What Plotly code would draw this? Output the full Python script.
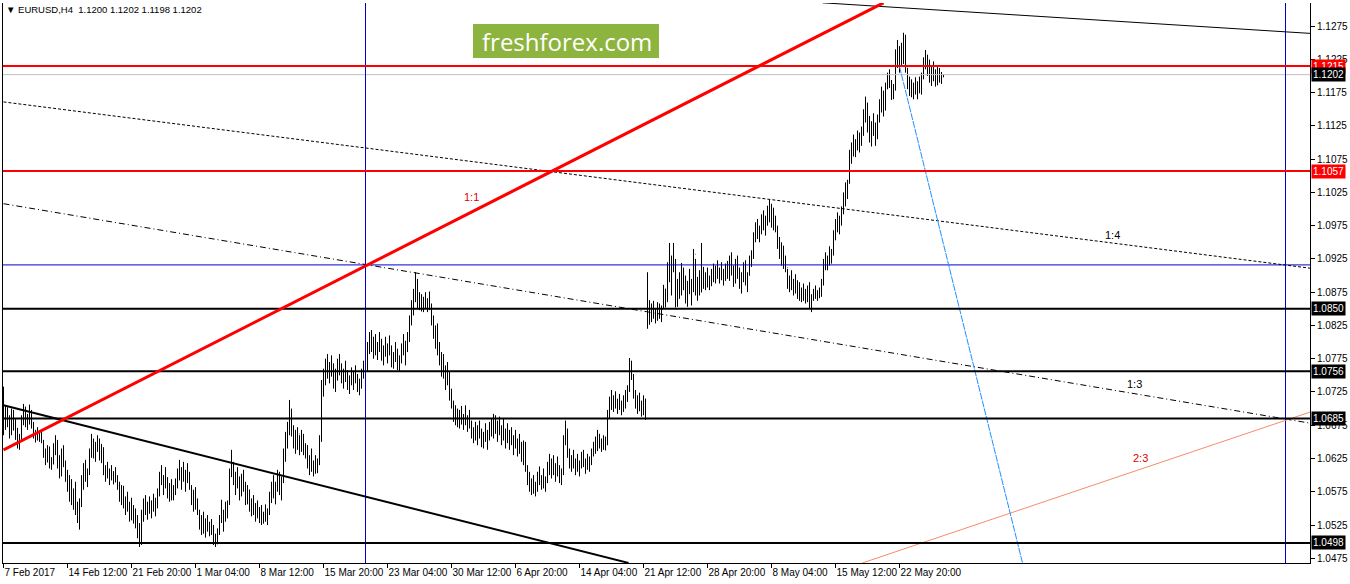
import plotly.graph_objects as go

# ---------------- data (prices in 1/10000 units) ----------------
PIP = 10000.0

bar_open = [
10705,10672,10690,10680,10662,10694,10675,10660,10648,10655,
10684,10698,10680,10686,10690,10674,10661,10660,10657,10654,
10651,10632,10622,10640,10616,10620,10641,10650,10615,10602,
10635,10618,10598,10580,10588,10562,10570,10546,10535,10558,
10590,10605,10598,10605,10632,10648,10630,10644,10640,10628,
10640,10606,10610,10600,10604,10597,10600,10594,10583,10565,
10578,10555,10560,10550,10552,10538,10546,10528,10512,10500,
10540,10558,10548,10555,10547,10558,10552,10560,10574,10598,
10590,10592,10585,10572,10580,10568,10578,10588,10602,10598,
10605,10595,10600,10592,10582,10560,10570,10552,10546,10525,
10532,10518,10528,10520,10526,10514,10500,10508,10515,10535,
10540,10544,10552,10556,10605,10612,10590,10598,10585,10570,
10595,10580,10562,10578,10550,10560,10545,10552,10540,10548,
10530,10542,10535,10546,10570,10582,10572,10585,10600,10578,
10592,10632,10655,10672,10690,10665,10660,10645,10662,10640,
10650,10635,10644,10615,10625,10610,10618,10608,10620,10655,
10735,10748,10762,10752,10765,10755,10740,10750,10768,10758,
10745,10752,10748,10735,10745,10740,10750,10742,10730,10738,
10755,10750,10762,10795,10805,10792,10800,10786,10795,10790,
10780,10788,10784,10792,10786,10770,10780,10775,10765,10776,
10790,10785,10796,10808,10835,10852,10875,10870,10862,10868,
10852,10862,10856,10860,10852,10830,10812,10820,10786,10772,
10778,10750,10760,10740,10720,10705,10690,10698,10680,10692,
10684,10688,10680,10685,10675,10660,10668,10658,10670,10662,
10648,10660,10655,10664,10672,10662,10685,10668,10675,10664,
10670,10660,10665,10655,10660,10650,10655,10645,10650,10640,
10628,10645,10612,10595,10580,10588,10578,10585,10598,10590,
10595,10585,10592,10615,10610,10620,10605,10612,10602,10598,
10605,10655,10660,10635,10615,10625,10615,10620,10610,10618,
10628,10618,10620,10615,10625,10635,10645,10640,10660,10648,
10650,10645,10654,10692,10710,10705,10715,10708,10710,10704,
10708,10715,10720,10730,10765,10750,10720,10710,10715,10702,
10708,10695,10880,10850,10845,10850,10840,10846,10855,10842,
10850,10880,10870,10912,10900,10925,10912,10860,10885,10875,
10910,10882,10865,10885,10880,10890,10932,10878,10892,10875,
10905,10895,10900,10888,10895,10905,10898,10910,10902,10908,
10898,10905,10912,10900,10925,10908,10890,10918,10900,10885,
10898,10912,10890,10900,10925,10932,10960,10972,10962,10970,
10985,10975,10985,10998,10990,10998,10975,10970,10948,10935,
10940,10918,10912,10888,10895,10885,10890,10878,10885,10870,
10878,10868,10875,10865,10858,10868,10875,10870,10875,10872,
10890,10920,10915,10925,10938,10935,10962,10978,10972,10985,
10998,11018,11035,11040,11082,11090,11085,11100,11095,11110,
11118,11145,11140,11125,11108,11125,11118,11120,11138,11158,
11172,11150,11185,11195,11188,11170,11182,11232,11220,11238,
11222,11258,11212,11188,11190,11175,11185,11178,11188,11182,
11200,11222,11218,11225,11198,11205,11200,11195,11208,11198,
11200]

bar_high = [
10733,10704,10702,10690,10700,10698,10684,10671,10662,10690,
10707,10703,10692,10706,10698,10680,10668,10672,10665,10668,
10653,10640,10645,10643,10627,10648,10660,10653,10630,10640,
10645,10622,10608,10600,10594,10580,10590,10560,10565,10600,
10618,10623,10610,10640,10662,10655,10650,10660,10655,10647,
10642,10615,10620,10610,10615,10606,10612,10600,10590,10585,
10584,10568,10575,10560,10566,10555,10550,10540,10528,10548,
10565,10570,10560,10568,10562,10572,10566,10580,10605,10615,
10600,10612,10597,10588,10594,10585,10595,10610,10623,10612,
10620,10608,10618,10605,10585,10578,10582,10565,10548,10540,
10545,10535,10540,10530,10534,10525,10512,10520,10540,10563,
10548,10560,10562,10610,10638,10620,10605,10612,10598,10602,
10608,10590,10585,10578,10565,10570,10558,10562,10552,10555,
10545,10556,10550,10575,10590,10600,10590,10608,10605,10598,
10640,10665,10680,10713,10700,10675,10668,10672,10660,10668,
10662,10648,10645,10630,10640,10622,10630,10625,10660,10743,
10760,10775,10782,10770,10780,10768,10760,10775,10782,10768,
10760,10772,10758,10750,10762,10755,10765,10752,10745,10760,
10772,10768,10800,10815,10818,10808,10812,10800,10815,10805,
10795,10808,10798,10810,10795,10785,10800,10790,10780,10798,
10812,10802,10815,10840,10863,10880,10905,10895,10875,10872,
10868,10875,10866,10876,10858,10840,10825,10828,10800,10785,
10782,10765,10770,10755,10730,10712,10705,10700,10698,10704,
10692,10705,10690,10698,10682,10672,10680,10675,10682,10670,
10665,10678,10668,10680,10685,10692,10690,10682,10688,10675,
10685,10670,10678,10668,10672,10660,10668,10655,10662,10650,
10652,10650,10615,10605,10595,10600,10590,10605,10613,10600,
10610,10598,10620,10632,10625,10630,10618,10628,10615,10610,
10660,10682,10670,10640,10630,10638,10625,10632,10622,10635,
10638,10625,10632,10628,10640,10650,10658,10668,10662,10655,
10660,10658,10698,10718,10728,10720,10726,10715,10722,10712,
10720,10728,10735,10776,10772,10752,10728,10720,10724,10712,
10720,10715,10905,10863,10858,10862,10850,10860,10858,10855,
10886,10880,10920,10949,10930,10949,10925,10895,10905,10919,
10912,10900,10892,10910,10895,10940,10925,10898,10908,10949,
10913,10905,10912,10900,10910,10918,10915,10923,10912,10920,
10910,10918,10922,10930,10935,10915,10925,10930,10912,10905,
10920,10923,10905,10930,10938,10965,10980,10985,10975,10992,
10998,10990,11005,11014,11008,11002,10990,10975,10958,10950,
10945,10930,10910,10900,10908,10895,10902,10893,10890,10882,
10888,10880,10885,10890,10872,10880,10885,10878,10882,10895,
10925,10935,10930,10944,10940,10968,10985,10995,10990,11004,
11025,11040,11044,11089,11100,11112,11105,11118,11115,11124,
11150,11169,11160,11140,11132,11144,11130,11142,11165,11184,
11178,11190,11205,11210,11194,11188,11240,11254,11245,11250,
11265,11262,11212,11199,11195,11190,11198,11192,11199,11205,
11228,11239,11232,11224,11215,11222,11210,11215,11212,11206,
11202]

bar_low = [
10660,10668,10672,10655,10660,10667,10653,10640,10638,10650,
10675,10672,10668,10676,10670,10655,10649,10652,10650,10648,
10626,10615,10619,10610,10608,10616,10630,10610,10595,10598,
10612,10590,10575,10560,10555,10548,10540,10528,10518,10552,
10578,10590,10582,10600,10626,10625,10620,10635,10622,10618,
10600,10590,10595,10585,10592,10586,10589,10578,10560,10555,
10550,10540,10545,10530,10532,10527,10520,10505,10492,10495,
10530,10540,10533,10542,10535,10545,10538,10550,10568,10585,
10570,10580,10565,10560,10562,10562,10570,10580,10592,10578,
10590,10575,10588,10578,10555,10545,10548,10540,10518,10510,
10512,10506,10515,10508,10510,10495,10492,10496,10510,10528,
10515,10530,10535,10555,10597,10585,10570,10580,10562,10568,
10575,10555,10556,10545,10538,10540,10530,10535,10528,10525,
10527,10530,10525,10540,10558,10565,10556,10575,10570,10562,
10588,10620,10640,10660,10658,10640,10632,10638,10630,10635,
10630,10625,10610,10600,10605,10598,10602,10603,10615,10650,
10718,10735,10745,10738,10748,10730,10725,10742,10750,10738,
10730,10740,10728,10722,10735,10728,10738,10725,10720,10730,
10745,10740,10755,10782,10785,10775,10780,10773,10785,10772,
10765,10778,10768,10780,10762,10760,10770,10758,10755,10768,
10780,10765,10785,10800,10825,10840,10860,10850,10848,10846,
10845,10850,10845,10848,10825,10805,10790,10780,10765,10748,
10745,10728,10735,10712,10700,10680,10675,10672,10670,10676,
10668,10675,10665,10670,10655,10648,10652,10645,10655,10642,
10640,10650,10638,10652,10658,10655,10662,10650,10660,10645,
10652,10640,10648,10638,10645,10630,10640,10628,10632,10620,
10615,10605,10585,10575,10570,10572,10568,10575,10585,10578,
10580,10575,10588,10600,10595,10600,10590,10598,10588,10585,
10600,10645,10626,10610,10605,10610,10600,10605,10598,10610,
10612,10602,10608,10605,10615,10628,10632,10636,10640,10635,
10638,10637,10645,10685,10698,10695,10700,10692,10698,10690,
10695,10700,10710,10725,10743,10715,10700,10692,10696,10688,
10690,10683,10820,10826,10830,10835,10828,10832,10835,10830,
10851,10852,10860,10890,10870,10905,10852,10853,10865,10870,
10878,10858,10853,10872,10855,10875,10870,10862,10870,10875,
10880,10878,10882,10878,10884,10890,10888,10895,10888,10893,
10885,10892,10895,10892,10900,10883,10888,10895,10880,10873,
10890,10885,10875,10900,10913,10925,10950,10955,10950,10962,
10968,10960,10975,10980,10972,10968,10965,10940,10925,10915,
10910,10905,10880,10875,10878,10870,10873,10865,10862,10860,
10862,10858,10860,10850,10845,10862,10865,10862,10866,10868,
10885,10908,10908,10915,10918,10930,10953,10965,10962,10975,
10992,11004,11015,11038,11068,11079,11078,11088,11085,11095,
11110,11130,11115,11100,11094,11110,11095,11105,11130,11145,
11139,11148,11180,11182,11164,11165,11178,11212,11205,11215,
11218,11205,11180,11170,11168,11165,11172,11165,11174,11172,
11195,11210,11200,11190,11185,11192,11184,11186,11190,11188,
11198]

bar_close = [
10672,10690,10680,10662,10694,10675,10660,10648,10655,10684,
10698,10680,10686,10690,10674,10661,10660,10657,10654,10651,
10632,10622,10640,10616,10620,10641,10650,10615,10602,10635,
10618,10598,10580,10588,10562,10570,10546,10535,10558,10590,
10605,10598,10605,10632,10648,10630,10644,10640,10628,10640,
10606,10610,10600,10604,10597,10600,10594,10583,10565,10578,
10555,10560,10550,10552,10538,10546,10528,10512,10500,10540,
10558,10548,10555,10547,10558,10552,10560,10574,10598,10590,
10592,10585,10572,10580,10568,10578,10588,10602,10598,10605,
10595,10600,10592,10582,10560,10570,10552,10546,10525,10532,
10518,10528,10520,10526,10514,10500,10508,10515,10535,10540,
10544,10552,10556,10605,10612,10590,10598,10585,10570,10595,
10580,10562,10578,10550,10560,10545,10552,10540,10548,10530,
10542,10535,10546,10570,10582,10572,10585,10600,10578,10592,
10632,10655,10672,10690,10665,10660,10645,10662,10640,10650,
10635,10644,10615,10625,10610,10618,10608,10620,10655,10735,
10748,10762,10752,10765,10755,10740,10750,10768,10758,10745,
10752,10748,10735,10745,10740,10750,10742,10730,10738,10755,
10750,10762,10795,10805,10792,10800,10786,10795,10790,10780,
10788,10784,10792,10786,10770,10780,10775,10765,10776,10790,
10785,10796,10808,10835,10852,10875,10870,10862,10868,10852,
10862,10856,10860,10852,10830,10812,10820,10786,10772,10778,
10750,10760,10740,10720,10705,10690,10698,10680,10692,10684,
10688,10680,10685,10675,10660,10668,10658,10670,10662,10648,
10660,10655,10664,10672,10662,10685,10668,10675,10664,10670,
10660,10665,10655,10660,10650,10655,10645,10650,10640,10628,
10645,10612,10595,10580,10588,10578,10585,10598,10590,10595,
10585,10592,10615,10610,10620,10605,10612,10602,10598,10605,
10655,10660,10635,10615,10625,10615,10620,10610,10618,10628,
10618,10620,10615,10625,10635,10645,10640,10660,10648,10650,
10645,10654,10692,10710,10705,10715,10708,10710,10704,10708,
10715,10720,10730,10765,10750,10720,10710,10715,10702,10708,
10695,10700,10850,10845,10850,10840,10846,10855,10842,10850,
10880,10870,10912,10900,10925,10912,10860,10885,10875,10910,
10882,10865,10885,10880,10890,10932,10878,10892,10875,10905,
10895,10900,10888,10895,10905,10898,10910,10902,10908,10898,
10905,10912,10900,10925,10908,10890,10918,10900,10885,10898,
10912,10890,10900,10925,10932,10960,10972,10962,10970,10985,
10975,10985,10998,10990,10998,10975,10970,10948,10935,10940,
10918,10912,10888,10895,10885,10890,10878,10885,10870,10878,
10868,10875,10865,10858,10868,10875,10870,10875,10872,10890,
10920,10915,10925,10938,10935,10962,10978,10972,10985,10998,
11018,11035,11040,11082,11090,11085,11100,11095,11110,11118,
11145,11140,11125,11108,11125,11118,11120,11138,11158,11172,
11150,11185,11195,11188,11170,11182,11232,11220,11238,11222,
11258,11212,11188,11190,11175,11185,11178,11188,11182,11200,
11222,11218,11225,11198,11205,11200,11195,11208,11198,11200,
11202]

x_tick_bars = [0, 32, 64, 96, 128, 160, 192, 224, 256, 288, 320, 352, 384, 416, 448]
x_tick_labels = ["7 Feb 2017", "14 Feb 12:00", "21 Feb 20:00", "1 Mar 04:00", "8 Mar 12:00",
                 "15 Mar 20:00", "23 Mar 04:00", "30 Mar 12:00", "6 Apr 20:00", "14 Apr 04:00",
                 "21 Apr 12:00", "28 Apr 20:00", "8 May 04:00", "15 May 12:00", "22 May 20:00"]
y_tick_values = [1.0475, 1.0525, 1.0575, 1.0625, 1.0675, 1.0725, 1.0775, 1.0825, 1.0875,
                 1.0925, 1.0975, 1.1025, 1.1075, 1.1125, 1.1175, 1.1225, 1.1275]

red_levels = [1.1215, 1.1057]
black_levels = [1.0850, 1.0756, 1.0685, 1.0498]
bid_price = 1.1202
cross_bar, cross_price = 181, 1.0916
second_vline_bar = 641

# trend lines: (bar0, price0, bar1, price1)
line_11 = (0, 1.0638, 440, 1.1310)          # thick red "1:1"
line_down = (0, 1.0705, 312.5, 1.0468)      # thick black support
line_top = (409.5, 1.1310, 653.5, 1.1264)   # thin black at top
line_14 = (0, 1.1161, 653.5, 1.0911)        # dotted "1:4"
line_13 = (0, 1.1008, 653.5, 1.0678)        # dash-dot "1:3"
line_blue = (448, 1.1214, 509.5, 1.0468)    # blue
line_23 = (429.5, 1.0468, 653.5, 1.0695)    # salmon "2:3"

labels = [("1:1", 234, 1.1018, "#e00000"), ("1:4", 554.5, 1.0961, "black"),
          ("1:3", 565.5, 1.0737, "black"), ("2:3", 568.5, 1.0626, "#e00000")]

X_RANGE = [-0.25, 653.25]
Y_RANGE = [1.04679, 1.13097]
FONT = "Liberation Sans"

# ---------------- figure ----------------
bars = list(range(len(bar_high)))
fig = go.Figure()
fig.add_trace(go.Ohlc(
    x=bars,
    open=[v / PIP for v in bar_open],
    high=[v / PIP for v in bar_high],
    low=[v / PIP for v in bar_low],
    close=[v / PIP for v in bar_close],
    increasing=dict(line=dict(color="black", width=1)),
    decreasing=dict(line=dict(color="black", width=1)),
    tickwidth=0.25, hoverinfo="skip", showlegend=False,
))

shapes = []
def hline(p, color, width, dash="solid"):
    shapes.append(dict(type="line", xref="paper", yref="y", x0=0, x1=1, y0=p, y1=p,
                       line=dict(color=color, width=width, dash=dash)))
def seg(l, color, width, dash="solid"):
    shapes.append(dict(type="line", xref="x", yref="y", x0=l[0], y0=l[1], x1=l[2], y1=l[3],
                       line=dict(color=color, width=width, dash=dash)))

hline(bid_price, "#c0c0c0", 1)
hline(cross_price, "#0000cd", 1)
for xv in (cross_bar, second_vline_bar):
    shapes.append(dict(type="line", xref="x", yref="paper", x0=xv, x1=xv, y0=0, y1=1,
                       line=dict(color="#0000cd", width=1)))
seg(line_14, "black", 1, "3px,2px")
seg(line_13, "black", 1, "6px,3px,1px,3px")
seg(line_top, "black", 1)
seg(line_23, "#f88a6a", 1)
seg(line_blue, "#1e90ff", 1, "7px,1px")
for p in red_levels:
    hline(p, "red", 2)
for p in black_levels:
    hline(p, "black", 2)
seg(line_down, "black", 2)
seg(line_11, "red", 3)

# watermark box
shapes.append(dict(type="rect", xref="paper", yref="paper", x0=0.3596, x1=0.5019,
                   y0=0.9018, y1=0.9625, fillcolor="#8db43f", line=dict(width=0)))

ann = []
ann.append(dict(text="freshforex.com", xref="paper", yref="paper", x=0.4313, y=0.931,
                showarrow=False, font=dict(family="Open Sans", size=24, color="white"),
                xanchor="center", yanchor="middle"))
ann.append(dict(text="\u25bc EURUSD,H4\u00a0\u00a01.1200 1.1202 1.1198 1.1202",
                xref="paper", yref="paper", x=0.001, y=0.989, showarrow=False,
                xanchor="left", yanchor="middle", font=dict(family=FONT, size=9.5, color="black")))
for t, bx, py, col in labels:
    ann.append(dict(text=t, xref="x", yref="y", x=bx, y=py, showarrow=False,
                    font=dict(family=FONT, size=11, color=col)))
box_levels = [(p, "red") for p in red_levels] + [(bid_price, "black")] + [(p, "black") for p in black_levels]
for p, col in box_levels:
    ann.append(dict(text=f"{p:.4f}", xref="paper", yref="y", x=1, y=p, xanchor="left",
                    yanchor="middle", xshift=1, showarrow=False, bgcolor=col, borderpad=1,
                    font=dict(family=FONT, size=10, color="white")))

fig.update_layout(
    width=1350, height=584,
    margin=dict(l=3, r=40, t=3, b=21, pad=0, autoexpand=False),
    paper_bgcolor="white", plot_bgcolor="white",
    showlegend=False, shapes=shapes, annotations=ann,
    xaxis=dict(range=X_RANGE, tickvals=x_tick_bars, ticktext=x_tick_labels, tickangle=0,
               ticks="outside", ticklen=4, tickcolor="black", showline=True, linecolor="black",
               linewidth=1, showgrid=False, zeroline=False, ticklabelposition="outside right",
               automargin=False,
               tickfont=dict(family=FONT, size=10, color="black"), rangeslider=dict(visible=False),
               fixedrange=True),
    yaxis=dict(range=Y_RANGE, side="right", tickvals=y_tick_values, automargin=False,
               ticktext=[f"{v:.4f}" for v in y_tick_values], ticks="outside", ticklen=4,
               tickcolor="black", showline=True, linecolor="black", linewidth=1, mirror=True,
               showgrid=False, zeroline=False, tickfont=dict(family=FONT, size=10, color="black"),
               fixedrange=True),
)
fig.write_html("out.html", config={"displayModeBar": False},
               post_script="document.body.style.margin='0px';document.body.style.overflow='hidden';")
